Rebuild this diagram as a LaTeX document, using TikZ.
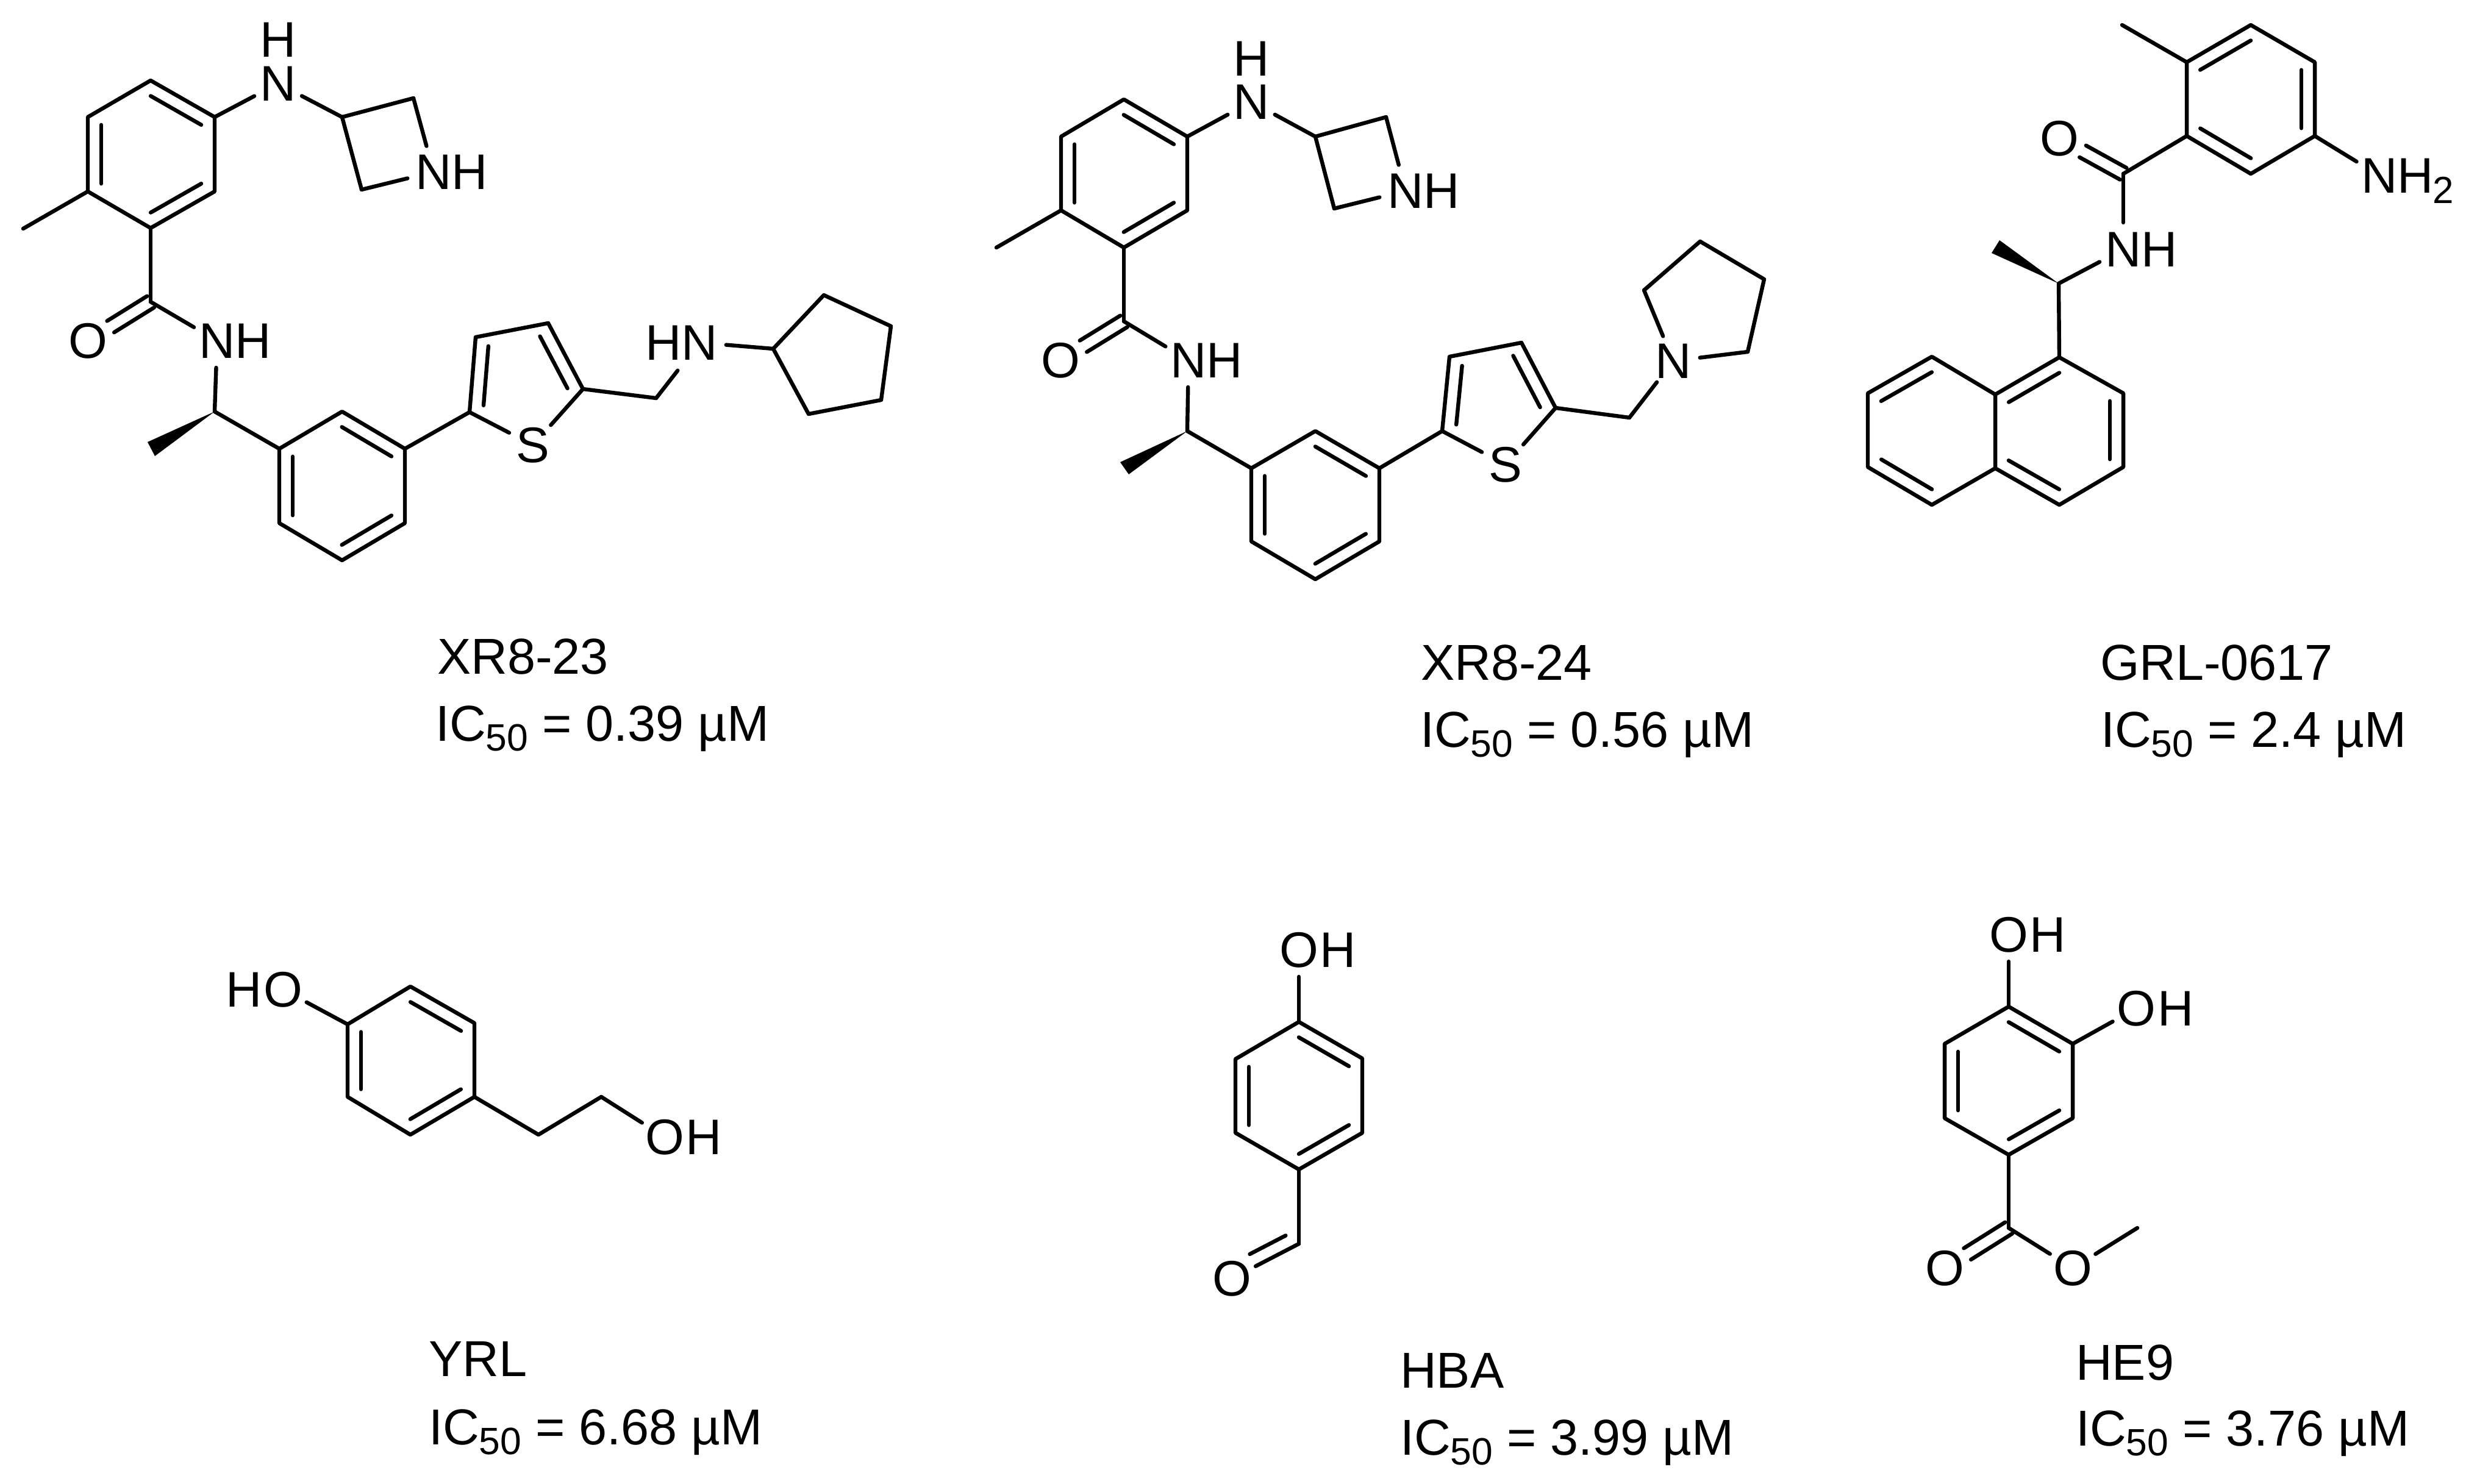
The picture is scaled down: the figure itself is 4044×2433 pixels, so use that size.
\documentclass[tikz,border=0pt]{standalone}
\usepackage{fontspec}
\setmainfont{Liberation Sans}
\usetikzlibrary{calc}
\newcommand\dblin[2]{\draw ($(#1)!.105!(#2)!5.5pt!90:(#2)$) -- ($(#2)!.105!(#1)!5.5pt!-90:(#1)$);}
\newcommand\dblsym[2]{%
  \draw ($(#1)!2.75pt!90:(#2)$) -- ($(#2)!11pt!(#1)!2.75pt!-90:(#1)$);%
  \draw ($(#1)!2.75pt!-90:(#2)$) -- ($(#2)!11pt!(#1)!2.75pt!90:(#1)$);}
\newcommand\benz[1]{%
  \draw (#11)--(#12)--(#13)--(#14)--(#15)--(#16)--cycle;%
  \dblin{#12}{#11}\dblin{#16}{#15}\dblin{#14}{#13}}
\newcommand\icfifty[1]{IC{\fontsize{15.6pt}{18pt}\selectfont\raisebox{-4pt}{50}} = #1 µM}
\tikzset{
  bond/.style={line width=1.6pt,line cap=round,line join=round},
  atom/.style={circle,minimum size=22pt,inner sep=0pt,outer sep=0pt,font=\fontsize{20.5pt}{24pt}\selectfont},
  lab/.style={inner sep=0pt,outer sep=0pt,font=\fontsize{20.5pt}{24pt}\selectfont},
  subl/.style={inner sep=0pt,outer sep=0pt,font=\fontsize{15.5pt}{18pt}\selectfont},
  capt/.style={anchor=base west,inner sep=0pt,outer sep=0pt,font=\fontsize{20.7pt}{24pt}\selectfont}
}
\begin{document}
\begin{tikzpicture}[x=.25pt,y=-.25pt,bond]
\useasboundingbox (0,0) rectangle (4044,2433);
\fill[white] (0,0) rectangle (4044,2433);

% ---------- XR8-23 ----------
\coordinate (aa1) at (247,132); \coordinate (aa2) at (352,192); \coordinate (aa3) at (352,314);
\coordinate (aa4) at (247,374); \coordinate (aa5) at (144,314); \coordinate (aa6) at (144,192);
\benz{aa}
\coordinate (ame) at (38,375); \draw (aa5)--(ame);
\node[atom] (an1) at (456,137) {N}; \node[lab] (ah1) at (456,65) {H};
\draw (aa2)--(an1);
\coordinate (az1) at (561,192); \coordinate (az2) at (678,161); \coordinate (az3) at (593,311);
\node[atom] (an2) at (711,282) {N}; \node[lab] (ah2) at (770,282) {H};
\draw (an1)--(az1); \draw (az2)--(az1)--(az3); \draw (az2)--(an2); \draw (az3)--(an2);
\coordinate (ac7) at (247,495); \draw (aa4)--(ac7);
\node[atom] (ao) at (144,559) {O}; \dblsym{ac7}{ao}
\node[atom] (an3) at (356,559) {N}; \node[lab] (ah3) at (415,559) {H};
\draw (ac7)--(an3);
\coordinate (ac8) at (352,675); \draw (an3)--(ac8);
\coordinate (aw1) at (242,725); \coordinate (aw2) at (254,748); \fill (ac8)--(aw1)--(aw2)--cycle;
\coordinate (ab1) at (561,675); \coordinate (ab2) at (664,736); \coordinate (ab3) at (664,858);
\coordinate (ab4) at (561,919); \coordinate (ab5) at (458,858); \coordinate (ab6) at (458,736);
\benz{ab}
\draw (ac8)--(ab6);
\coordinate (at2) at (770,676); \coordinate (at3) at (780,553); \coordinate (at4) at (899,530); \coordinate (at5) at (956,638);
\node[atom] (as) at (874,730) {S};
\draw (ab2)--(at2); \draw (as)--(at2)--(at3)--(at4)--(at5)--(as);
\dblin{at3}{at2}\dblin{at5}{at4}
\coordinate (ach) at (1076,653); \draw (at5)--(ach);
\node[lab] (ah4) at (1088,562) {H}; \node[atom] (an4) at (1147,562) {N};
\draw[shorten >=3.5pt] (ach)--(an4);
\coordinate (ap1) at (1268,572); \coordinate (ap2) at (1351,484); \coordinate (ap3) at (1461,535); \coordinate (ap4) at (1445,656); \coordinate (ap5) at (1326,679);
\draw (an4)--(ap1); \draw (ap1)--(ap2)--(ap3)--(ap4)--(ap5)--cycle;
\node[capt] (acap1) at (717,1105) {XR8-23};
\node[capt] (acap2) at (714,1215) {\icfifty{0.39}};

% ---------- XR8-24 ----------
\coordinate (ba1) at (1843,163); \coordinate (ba2) at (1947,224); \coordinate (ba3) at (1947,345);
\coordinate (ba4) at (1843,406); \coordinate (ba5) at (1740,345); \coordinate (ba6) at (1740,224);
\benz{ba}
\coordinate (bme) at (1634,406); \draw (ba5)--(bme);
\node[atom] (bn1) at (2052,167) {N}; \node[lab] (bh1) at (2052,96) {H};
\draw (ba2)--(bn1);
\coordinate (bz1) at (2157,224); \coordinate (bz2) at (2273,192); \coordinate (bz3) at (2188,342);
\node[atom] (bn2) at (2305,313) {N}; \node[lab] (bh2) at (2364,313) {H};
\draw (bn1)--(bz1); \draw (bz2)--(bz1)--(bz3); \draw (bz2)--(bn2); \draw (bz3)--(bn2);
\coordinate (bc7) at (1843,527); \draw (ba4)--(bc7);
\node[atom] (bo) at (1739,591) {O}; \dblsym{bc7}{bo}
\node[atom] (bn3) at (1949,591) {N}; \node[lab] (bh3) at (2008,591) {H};
\draw (bc7)--(bn3);
\coordinate (bc8) at (1947,707); \draw (bn3)--(bc8);
\coordinate (bw1) at (1837,758); \coordinate (bw2) at (1851,778); \fill (bc8)--(bw1)--(bw2)--cycle;
\coordinate (bb1) at (2157,707); \coordinate (bb2) at (2262,768); \coordinate (bb3) at (2262,888);
\coordinate (bb4) at (2157,950); \coordinate (bb5) at (2052,888); \coordinate (bb6) at (2052,768);
\benz{bb}
\draw (bc8)--(bb6);
\coordinate (bt2) at (2365,707); \coordinate (bt3) at (2377,585); \coordinate (bt4) at (2495,562); \coordinate (bt5) at (2551,669);
\node[atom] (bs) at (2469,762) {S};
\draw (bb2)--(bt2); \draw (bs)--(bt2)--(bt3)--(bt4)--(bt5)--(bs);
\dblin{bt3}{bt2}\dblin{bt5}{bt4}
\coordinate (bch) at (2672,685); \draw (bt5)--(bch);
\node[atom] (bn4) at (2744,592) {N}; \draw (bch)--(bn4);
\coordinate (bp1) at (2866,577); \coordinate (bp2) at (2893,458); \coordinate (bp3) at (2788,396); \coordinate (bp4) at (2696,476);
\draw (bn4)--(bp1); \draw (bp1)--(bp2)--(bp3)--(bp4); \draw (bp4)--(bn4);
\node[capt] (bcap1) at (2330,1115) {XR8-24};
\node[capt] (bcap2) at (2329,1225) {\icfifty{0.56}};

% ---------- GRL-0617 ----------
\coordinate (cr1) at (3586,102); \coordinate (cr2) at (3691,41); \coordinate (cr3) at (3796,102);
\coordinate (cr4) at (3796,223); \coordinate (cr5) at (3691,285); \coordinate (cr6) at (3586,223);
\draw (cr1)--(cr2)--(cr3)--(cr4)--(cr5)--(cr6)--cycle;
\dblin{cr2}{cr1}\dblin{cr4}{cr3}\dblin{cr6}{cr5}
\coordinate (cme) at (3480,41); \draw (cr1)--(cme);
\node[atom] (cn1) at (3902,288) {N}; \node[lab] (ch1) at (3961,288) {H}; \node[subl] (cs2) at (4007,312) {2};
\draw (cr4)--(cn1);
\coordinate (cc7) at (3482,285); \draw (cr6)--(cc7);
\node[atom] (co) at (3377,227) {O}; \dblsym{cc7}{co}
\node[atom] (cn2) at (3482,409) {N}; \node[lab] (ch2) at (3541,409) {H};
\draw (cc7)--(cn2);
\coordinate (cc8) at (3376,465); \draw (cn2)--(cc8);
\coordinate (cw1) at (3279,394); \coordinate (cw2) at (3266,415); \fill (cc8)--(cw1)--(cw2)--cycle;
\coordinate (cn11) at (3377,586); \coordinate (cn12) at (3482,645); \coordinate (cn13) at (3482,766);
\coordinate (cn14) at (3377,828); \coordinate (cn15) at (3272,768); \coordinate (cn16) at (3272,647);
\draw (cc8)--(cn11);
\draw (cn11)--(cn12)--(cn13)--(cn14)--(cn15)--(cn16)--cycle;
\dblin{cn11}{cn16}\dblin{cn13}{cn12}\dblin{cn15}{cn14}
\coordinate (cl1) at (3168,585); \coordinate (cl2) at (3063,645); \coordinate (cl3) at (3063,766); \coordinate (cl4) at (3168,828);
\draw (cn16)--(cl1)--(cl2)--(cl3)--(cl4)--(cn15);
\dblin{cl1}{cl2}\dblin{cl3}{cl4}
\node[capt] (ccap1) at (3444,1115) {GRL-0617};
\node[capt] (ccap2) at (3445,1225) {\icfifty{2.4}};

% ---------- YRL ----------
\coordinate (dp1) at (673,1618); \coordinate (dp2) at (778,1678); \coordinate (dp3) at (778,1799);
\coordinate (dp4) at (673,1861); \coordinate (dp5) at (570,1799); \coordinate (dp6) at (570,1680);
\benz{dp}
\node[lab] (dh1) at (400,1623) {H}; \node[atom] (do1) at (464,1623) {O};
\draw (dp6)--(do1);
\coordinate (dc1) at (883,1861); \coordinate (dc2) at (986,1799);
\draw (dp3)--(dc1)--(dc2);
\node[atom] (do2) at (1090,1865) {O}; \node[lab] (dh2) at (1154,1865) {H};
\draw (dc2)--(do2);
\node[capt] (dcap1) at (703,2257) {YRL};
\node[capt] (dcap2) at (703,2369) {\icfifty{6.68}};

% ---------- HBA ----------
\coordinate (ep1) at (2130,1676); \coordinate (ep2) at (2234,1736); \coordinate (ep3) at (2234,1858);
\coordinate (ep4) at (2130,1918); \coordinate (ep5) at (2026,1858); \coordinate (ep6) at (2026,1737);
\benz{ep}
\node[atom] (eo1) at (2130,1558) {O}; \node[lab] (eh1) at (2194,1558) {H};
\draw (ep1)--(eo1);
\coordinate (ec) at (2130,2040); \draw (ep4)--(ec);
\node[atom] (eo2) at (2020,2097) {O};
\draw (ec)--(eo2);
\draw ($(eo2)!.36!(ec)!5.5pt!90:(ec)$) -- ($(ec)!.105!(eo2)!5.5pt!-90:(eo2)$);
\node[capt] (ecap1) at (2296,2276) {HBA};
\node[capt] (ecap2) at (2296,2386) {\icfifty{3.99}};

% ---------- HE9 ----------
\coordinate (fp1) at (3294,1651); \coordinate (fp2) at (3399,1712); \coordinate (fp3) at (3399,1834);
\coordinate (fp4) at (3294,1894); \coordinate (fp5) at (3189,1834); \coordinate (fp6) at (3189,1712);
\benz{fp}
\node[atom] (fo1) at (3294,1533) {O}; \node[lab] (fh1) at (3358,1533) {H};
\draw (fp1)--(fo1);
\node[atom] (fo2) at (3503,1654) {O}; \node[lab] (fh2) at (3568,1654) {H};
\draw (fp2)--(fo2);
\coordinate (fc) at (3294,2014); \draw (fp4)--(fc);
\node[atom] (fo3) at (3189,2080) {O}; \dblsym{fc}{fo3}
\node[atom] (fo4) at (3399,2080) {O}; \draw (fc)--(fo4);
\coordinate (fme) at (3505,2014); \draw (fo4)--(fme);
\node[capt] (fcap1) at (3404,2263) {HE9};
\node[capt] (fcap2) at (3404,2371) {\icfifty{3.76}};
\end{tikzpicture}
\end{document}
